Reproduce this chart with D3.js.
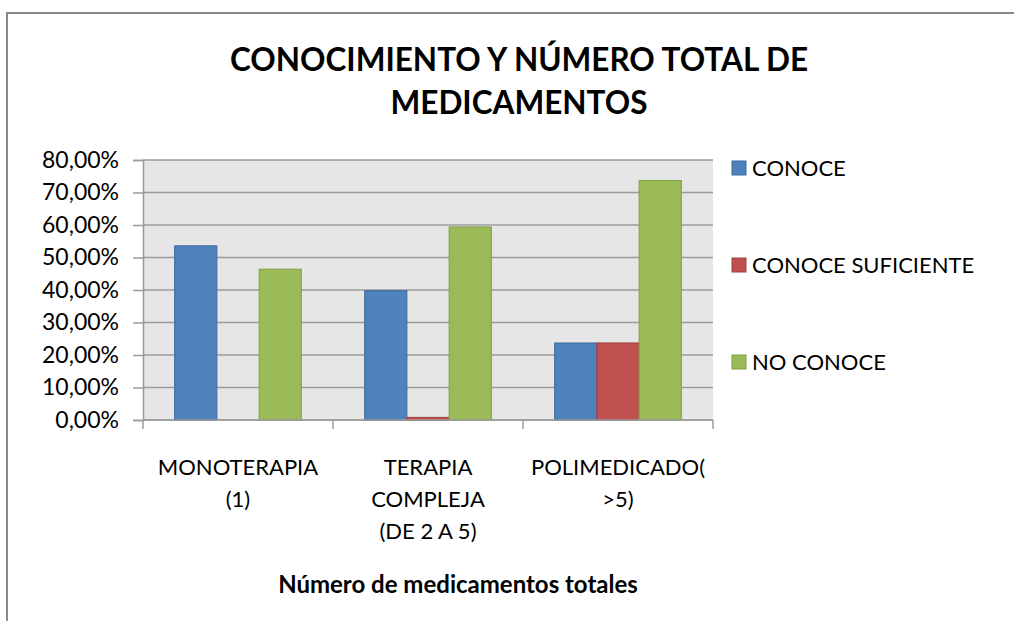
<!DOCTYPE html>
<html>
<head>
<meta charset="utf-8">
<script src="https://d3js.org/d3.v7.min.js"></script>
<style>
  body{
      margin: 0;
      overflow: hidden;
      background-color: white;
  }
  svg{
      display: block;
  }
  text{
      font-family: Lato, "Open Sans", sans-serif;
      fill: black;
  }
</style>
</head>
<body>
<script>
    var svgWidth = 1016;
    var svgHeight = 621;

    // data
    var categories = [["MONOTERAPIA", "(1)"], ["TERAPIA", "COMPLEJA", "(DE 2 A 5)"], ["POLIMEDICADO(", ">5)"]];
    var seriesNames = ["CONOCE", "CONOCE SUFICIENTE", "NO CONOCE"];
    var conoce = [0.536, 0.398, 0.237];
    var conoceSuficiente = [0, 0.008, 0.237];
    var noConoce = [0.464, 0.594, 0.737];
    var yTicks = [0, 0.1, 0.2, 0.3, 0.4, 0.5, 0.6, 0.7, 0.8];

    var fills = ["#4f81bd", "#c0504d", "#9bbb59"];
    var strokes = ["#3d6a9f", "#a03f3c", "#80a044"];
    var gridColor = "#9b9b9b";
    var plotBg = "#e6e6e6";

    var series = [conoce, conoceSuficiente, noConoce];

    var margin = {left: 143, right: 303, top: 160, bottom: 201};

    var svg = d3.select("body")
        .append("svg")
        .attr("width", svgWidth)
        .attr("height", svgHeight);

    // outer chart border: only top and left edges are in view
    svg.append("path")
        .attr("d", "M7," + svgHeight + "V13H" + (svgWidth - 2))
        .attr("fill", "none")
        .attr("stroke", "#8a8a8a")
        .attr("stroke-width", 2);

    var x = d3.scaleBand()
        .domain(d3.range(categories.length))
        .range([margin.left, svgWidth - margin.right]);

    var y = d3.scaleLinear()
        .domain([0, 0.8])
        .range([svgHeight - margin.bottom, margin.top]);

    // bars take 3/(3+1.5) of a band
    var x1 = d3.scaleBand()
        .domain(d3.range(series.length))
        .range([0, x.bandwidth()])
        .paddingOuter(0.75)
        .paddingInner(0);

    // plot area
    svg.append("rect")
        .attr("x", x.range()[0])
        .attr("y", y(0.8))
        .attr("width", x.range()[1] - x.range()[0])
        .attr("height", y(0) - y(0.8))
        .attr("fill", plotBg);

    // gridlines
    svg.selectAll(".grid")
        .data(yTicks)
        .enter().append("line")
        .attr("class", "grid")
        .attr("x1", x.range()[0])
        .attr("x2", x.range()[1])
        .attr("y1", function(d) {return y(d);})
        .attr("y2", function(d) {return y(d);})
        .attr("stroke", gridColor)
        .attr("stroke-width", 1.5);

    // bars
    series.forEach(function(values, s) {
        svg.selectAll(".bar" + s)
            .data(values)
            .enter().append("rect")
            .attr("class", "bar" + s)
            .attr("x", function(d, i) {return x(i) + x1(s);})
            .attr("y", function(d) {return y(d);})
            .attr("width", x1.bandwidth())
            .attr("height", function(d) {return y(0) - y(d);})
            .attr("fill", fills[s])
            .attr("stroke", d => d > 0 ? strokes[s] : "none")
            .attr("stroke-width", 1);
    });

    // y axis
    var yAxis = d3.axisLeft(y)
        .tickValues(yTicks)
        .tickSize(10)
        .tickPadding(14)
        .tickFormat(function(d) {return d3.format(".2f")(d * 100).replace(".", ",") + "%";});

    var gy = svg.append("g")
        .attr("transform", "translate(" + x.range()[0] + ",0)")
        .call(yAxis);
    gy.select(".domain").attr("stroke", gridColor).attr("stroke-width", 1.5);
    gy.selectAll(".tick line").attr("stroke", gridColor).attr("stroke-width", 1.5);
    gy.selectAll(".tick text")
        .style("font-family", "Lato, sans-serif")
        .style("font-size", "23px")
        .attr("fill", "#1a1a1a");

    // x axis: ticks at band edges
    var xEdges = d3.range(categories.length + 1).map(function(i) {
        return x.range()[0] + i * x.step();
    });
    svg.append("line")
        .attr("x1", x.range()[0])
        .attr("x2", x.range()[1])
        .attr("y1", y(0))
        .attr("y2", y(0))
        .attr("stroke", gridColor)
        .attr("stroke-width", 1.5);
    svg.selectAll(".xtick")
        .data(xEdges)
        .enter().append("line")
        .attr("class", "xtick")
        .attr("x1", d => d)
        .attr("x2", d => d)
        .attr("y1", y(0))
        .attr("y2", y(0) + 9)
        .attr("stroke", gridColor)
        .attr("stroke-width", 1.5);

    // category labels
    categories.forEach(function(lines, i) {
        svg.append("text")
            .attr("x", x(i) + x.bandwidth() / 2)
            .attr("y", 475)
            .attr("text-anchor", "middle")
            .style("font-size", "22px")
            .attr("fill", "#1a1a1a")
            .selectAll("tspan")
            .data(lines)
            .enter().append("tspan")
            .attr("x", x(i) + x.bandwidth() / 2)
            .attr("dy", (d, j) => j === 0 ? 0 : 32)
            .text(d => d);
    });

    // title
    var title = svg.append("text")
        .attr("text-anchor", "middle")
        .style("font-size", "31.5px")
        .style("font-weight", "bold");
    title.append("tspan").attr("x", 519).attr("y", 71).text("CONOCIMIENTO Y NÚMERO TOTAL DE");
    title.append("tspan").attr("x", 519).attr("y", 114).text("MEDICAMENTOS");

    // x axis title
    svg.append("text")
        .attr("x", 458)
        .attr("y", 593)
        .attr("text-anchor", "middle")
        .style("font-size", "24px")
        .style("font-weight", "bold")
        .text("Número de medicamentos totales");

    // legend
    var legend = svg.selectAll(".legend")
        .data(seriesNames)
        .enter().append("g")
        .attr("class", "legend")
        .attr("transform", (d, i) => "translate(732," + (161 + i * 97) + ")");
    legend.append("rect")
        .attr("width", 14)
        .attr("height", 14)
        .attr("fill", (d, i) => fills[i])
        .attr("stroke", (d, i) => strokes[i]);
    legend.append("text")
        .attr("x", 20)
        .attr("y", 15)
        .style("font-size", "22px")
        .attr("fill", "#1a1a1a")
        .text(d => d);
</script>
</body>
</html>
